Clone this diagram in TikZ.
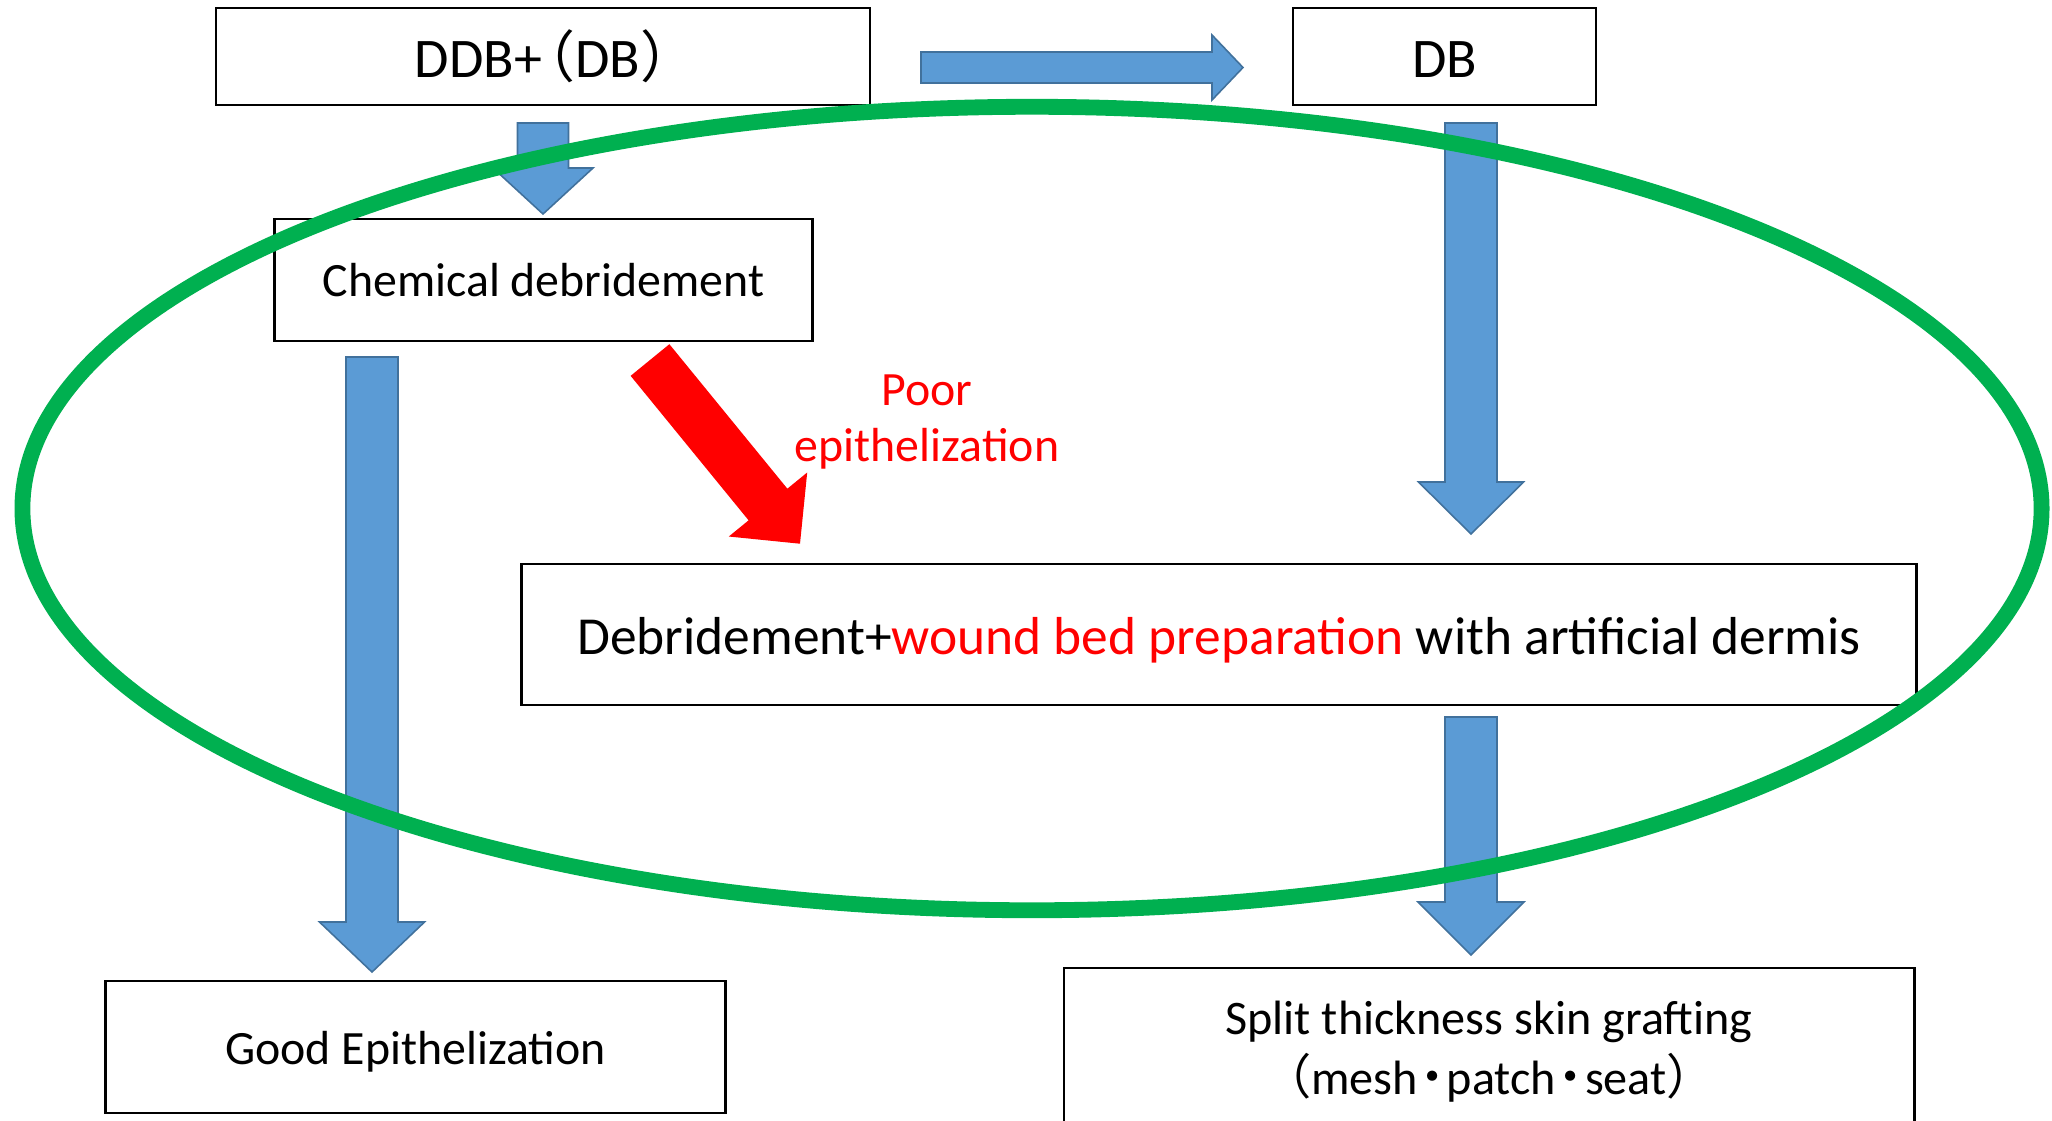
\documentclass[tikz,border=0pt]{standalone}
\usepackage{fontspec}
\setmainfont{Carlito}
\newfontfamily\jpfont{Noto Sans CJK JP}
\usetikzlibrary{calc}
\definecolor{arrblue}{HTML}{5B9BD5}
\definecolor{arredge}{HTML}{41719C}
\definecolor{ringgreen}{HTML}{00B050}
\tikzset{
  box/.style={draw, line width=0.7pt, inner sep=0pt, font=\fontsize{13.6}{17}\selectfont},
  bluearr/.style={fill=arrblue, draw=arredge, line width=0.45pt, line join=miter},
  redarr/.style={fill=red, draw=none},
  ring/.style={draw=ringgreen, line width=4.5pt}
}
% block arrow: [style] tail, tip, half shaft, half head, head length
\newcommand{\fatarrow}[6][]{%
  \draw[#1] ($(#2)!#4!90:(#3)$) -- ($(#3)!#6!(#2)!#4!-90:(#2)$) -- ($(#3)!#6!(#2)!#5!-90:(#2)$)
    -- (#3) -- ($(#3)!#6!(#2)!#5!90:(#2)$) -- ($(#3)!#6!(#2)!#4!90:(#2)$) -- ($(#2)!#4!-90:(#3)$) -- cycle;}
\newcommand{\jdot}{\kern-0.2em{\jpfont ・}\kern-0.2em}
\begin{document}
\begin{tikzpicture}[x=0.01cm, y=-0.01cm]
    \useasboundingbox (0,0) rectangle (2052,1120);
    % boxes
    \node[box, minimum width=6.54cm, minimum height=0.97cm, font=\fontsize{15.9}{19}\selectfont] (ddb) at (543,56.5) {DDB+\kern-0.4em{\jpfont （}DB{\jpfont ）}\kern-0.45em};
    \node[box, minimum width=3.03cm, minimum height=0.97cm, font=\fontsize{15.9}{19}\selectfont, text height=11.7pt] (db) at (1444.5,56.5) {DB};
    \node[box, minimum width=5.38cm, minimum height=1.22cm] (chem) at (543.5,280) {Chemical debridement};
    \node[box, minimum width=13.94cm, minimum height=1.41cm, font=\fontsize{15.2}{18}\selectfont, text height=14.5pt, text depth=3pt] (prep) at (1219,634.5) {Debridement+\textcolor{red}{wound bed preparation} with artificial dermis};
    \node[box, minimum width=6.2cm, minimum height=1.32cm, text height=12.5pt, text depth=2.7pt] (good) at (415.5,1047) {Good Epithelization};
    \node[box, minimum width=8.5cm, minimum height=1.68cm, align=center, font=\fontsize{13.7}{17}\selectfont] (stsg) at (1489,1052) {Split thickness skin grafting\\{\jpfont （}mesh\jdot patch\jdot seat{\jpfont ）}};
    \node[text=red, align=center, font=\fontsize{13.6}{16.2}\selectfont] (poor) at (927,422) {Poor\\epithelization};
    % arrow ends
    \coordinate (t1) at (921,67.5);  \coordinate (h1) at (1243,67.5);
    \coordinate (t2) at (543,123);   \coordinate (h2) at (543,214);
    \coordinate (t3) at (372,357);   \coordinate (h3) at (372,972);
    \coordinate (t4) at (1471,123);  \coordinate (h4) at (1471,534);
    \coordinate (t5) at (1471,717);  \coordinate (h5) at (1471,955);
    \coordinate (t6) at (650,360);   \coordinate (h6) at (800,543.7);
    \fatarrow[bluearr]{t1}{h1}{0.155cm}{0.325cm}{0.31cm}
    \fatarrow[bluearr]{t2}{h2}{0.255cm}{0.5cm}{0.46cm}
    \fatarrow[bluearr]{t3}{h3}{0.26cm}{0.525cm}{0.5cm}
    \fatarrow[bluearr]{t4}{h4}{0.26cm}{0.525cm}{0.52cm}
    \fatarrow[bluearr]{t5}{h5}{0.26cm}{0.53cm}{0.53cm}
    \fatarrow[redarr]{t6}{h6}{0.25cm}{0.506cm}{0.506cm}
    % green ring
    \draw[ring] (1032,508.5) ellipse [x radius=10.09cm, y radius=4.015cm];
\end{tikzpicture}
\end{document}
